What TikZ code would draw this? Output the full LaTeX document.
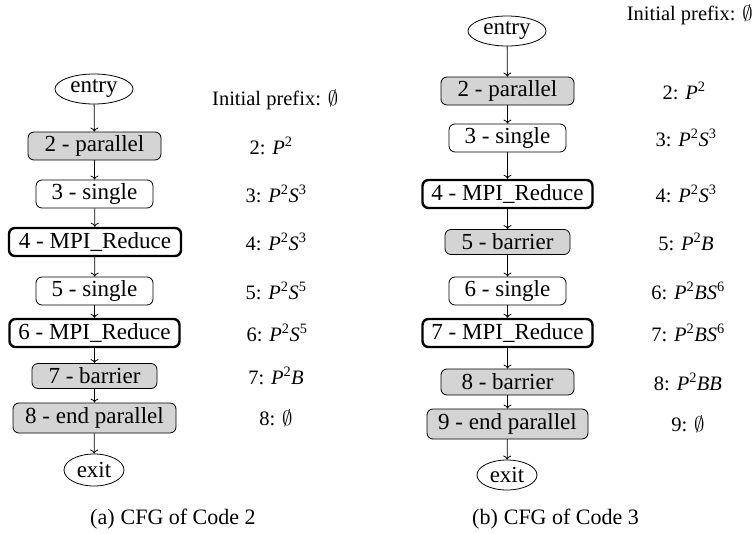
\documentclass[tikz,border=0pt]{standalone}
\usepackage{fontspec}
\setmainfont{Liberation Serif}
\usetikzlibrary{shapes.geometric,arrows.meta}
\tikzset{
  every node/.style={font=\fontsize{23}{27}\selectfont},
  blk/.style={draw, rounded corners=6pt, line width=0.8pt, inner sep=0pt, minimum height=28pt},
  grayblk/.style={blk, fill=black!17},
  mpiblk/.style={blk, line width=2.4pt},
  term/.style={draw, ellipse, line width=0.8pt, inner sep=0pt, minimum width=78pt, minimum height=30pt},
  flow/.style={line width=0.8pt, -{To[length=4pt,width=8pt]}},
  lbl/.style={inner sep=0pt, font=\fontsize{20.5}{24}\selectfont},
  captxt/.style={inner sep=0pt, anchor=west, font=\fontsize{22}{26}\selectfont}
}
\newcommand{\Pv}{\textit{P}}
\newcommand{\Sv}{\textit{S}}
\newcommand{\Bv}{\textit{B}}
\newcommand{\sps}[1]{\textsuperscript{#1}}
\begin{document}
\begin{tikzpicture}[x=1pt,y=-1pt]
\useasboundingbox (0,0) rectangle (755,533);
% ---------- (a) ----------
\node[term] (aentry) at (94,89) {entry};
\node[grayblk, minimum width=133pt] (a2) at (94.5,146) {2 - parallel};
\node[blk, minimum width=117pt] (a3) at (94.5,194) {3 - single};
\node[mpiblk, minimum width=172pt] (a4) at (95,242) {4 - MPI\_Reduce};
\node[blk, minimum width=117pt] (a5) at (94.5,291) {5 - single};
\node[mpiblk, minimum width=170pt] (a6) at (94.5,333) {6 - MPI\_Reduce};
\node[grayblk, minimum width=125pt, minimum height=25pt] (a7) at (94.5,376) {7 - barrier};
\node[grayblk, minimum width=163pt, minimum height=30pt] (a8) at (94.5,418) {8 - end parallel};
\node[term, minimum width=60pt, minimum height=32pt] (aexit) at (94,470) {exit};
\draw[flow] (aentry) -- (a2);
\draw[flow] (a2) -- (a3);
\draw[flow] (a3) -- (a4);
\draw[flow] (a4) -- (a5);
\draw[flow] (a5) -- (a6);
\draw[flow] (a6) -- (a7);
\draw[flow] (a7) -- (a8);
\draw[flow] (a8) -- (aexit);
\node[lbl, anchor=west] (ainit) at (212,100) {Initial prefix: $\emptyset$};
\node[lbl] (al2) at (271,146) {2: \Pv\sps{2}};
\node[lbl] (al3) at (276,194) {3: \Pv\sps{2}\Sv\sps{3}};
\node[lbl] (al4) at (276,242) {4: \Pv\sps{2}\Sv\sps{3}};
\node[lbl] (al5) at (276,291) {5: \Pv\sps{2}\Sv\sps{5}};
\node[lbl] (al6) at (277,333) {6: \Pv\sps{2}\Sv\sps{5}};
\node[lbl] (al7) at (276,376) {7: \Pv\sps{2}\Bv};
\node[lbl] (al8) at (276,418) {8: $\emptyset$};
\node[captxt] (acap) at (90,519) {(a)\hspace{6pt}CFG of Code 2};
% ---------- (b) ----------
\node[term] (bentry) at (507,31) {entry};
\node[grayblk, minimum width=133pt] (b2) at (507.5,91) {2 - parallel};
\node[blk, minimum width=117pt] (b3) at (507.5,138) {3 - single};
\node[mpiblk, minimum width=170pt] (b4) at (507.5,194) {4 - MPI\_Reduce};
\node[grayblk, minimum width=125pt, minimum height=25pt] (b5) at (507.5,242) {5 - barrier};
\node[blk, minimum width=117pt] (b6) at (507.5,291) {6 - single};
\node[mpiblk, minimum width=170pt] (b7) at (507.5,333) {7 - MPI\_Reduce};
\node[grayblk, minimum width=133pt, minimum height=26pt] (b8) at (507.5,382) {8 - barrier};
\node[grayblk, minimum width=161pt, minimum height=30pt] (b9) at (507.5,424) {9 - end parallel};
\node[term, minimum width=60pt, minimum height=30pt] (bexit) at (507,475) {exit};
\draw[flow] (bentry) -- (b2);
\draw[flow] (b2) -- (b3);
\draw[flow] (b3) -- (b4);
\draw[flow] (b4) -- (b5);
\draw[flow] (b5) -- (b6);
\draw[flow] (b6) -- (b7);
\draw[flow] (b7) -- (b8);
\draw[flow] (b8) -- (b9);
\draw[flow] (b9) -- (bexit);
\node[lbl, anchor=east] (binit) at (753,15) {Initial prefix: $\emptyset$};
\node[lbl] (bl2) at (684,91) {2: \Pv\sps{2}};
\node[lbl] (bl3) at (686,138) {3: \Pv\sps{2}\Sv\sps{3}};
\node[lbl] (bl4) at (686,194) {4: \Pv\sps{2}\Sv\sps{3}};
\node[lbl] (bl5) at (686,242) {5: \Pv\sps{2}\Bv};
\node[lbl] (bl6) at (688,291) {6: \Pv\sps{2}\Bv\Sv\sps{6}};
\node[lbl] (bl7) at (688,333) {7: \Pv\sps{2}\Bv\Sv\sps{6}};
\node[lbl] (bl8) at (688,382) {8: \Pv\sps{2}\Bv\Bv};
\node[lbl] (bl9) at (688,424) {9: $\emptyset$};
\node[captxt] (bcap) at (472,519) {(b)\hspace{6pt}CFG of Code 3};
\end{tikzpicture}
\end{document}
